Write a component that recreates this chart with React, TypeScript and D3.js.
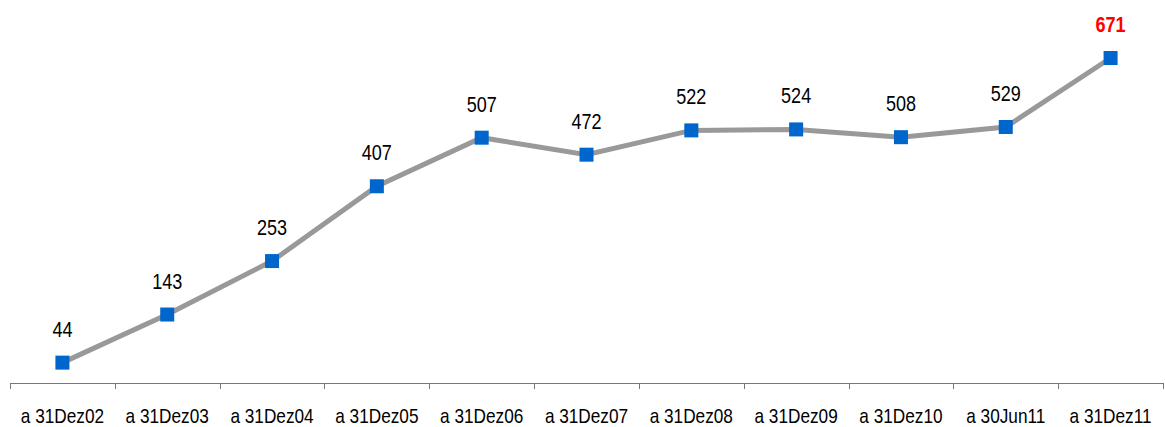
import React from 'react';
import * as d3 from 'd3';

const categories = ['a 31Dez02', 'a 31Dez03', 'a 31Dez04', 'a 31Dez05', 'a 31Dez06', 'a 31Dez07', 'a 31Dez08', 'a 31Dez09', 'a 31Dez10', 'a 30Jun11', 'a 31Dez11'];
const values = [44, 143, 253, 407, 507, 472, 522, 524, 508, 529, 671];

const W = 1165;
const H = 427;
const font = "'Liberation Sans', Arial, sans-serif";
// the original uses a narrow face; squeeze the regular one horizontally
const narrow = 0.82;

const App = () => {
  const x = d3.scaleBand<string>().domain(categories).range([10, 1163]);
  const y = d3.scaleLinear().domain([0, 671]).range([384, 58]);
  const cx = (c: string) => (x(c) as number) + x.bandwidth() / 2;

  const line = d3.line<number>()
    .x((d, i) => cx(categories[i]))
    .y((d) => y(d));

  const ticks = [...categories.map((c) => x(c) as number), 1163];
  const last = values.length - 1;

  return (
    <svg width={W} height={H} style={{ position: 'absolute', left: 0, top: 0 }}>
      <line x1={10} x2={1163} y1={383.5} y2={383.5} stroke="#777" strokeWidth={1} />
      {ticks.map((t, i) => (
        <line key={i} x1={Math.round(t) + 0.5} x2={Math.round(t) + 0.5} y1={383} y2={389} stroke="#777" strokeWidth={1} />
      ))}
      {categories.map((c) => (
        <text key={c} transform={`translate(${cx(c)},423) scale(${narrow},1)`} textAnchor="middle"
          fontFamily={font} fontSize={21} fill="#000">{c}</text>
      ))}
      <path d={line(values) || ''} fill="none" stroke="#999999" strokeWidth={5} />
      {values.map((v, i) => (
        <rect key={i} x={cx(categories[i]) - 7} y={y(v) - 7} width={14} height={14} fill="#0066CC" />
      ))}
      {values.map((v, i) => (
        <text key={'l' + i} transform={`translate(${cx(categories[i])},${y(v) - 26}) scale(${narrow},1)`}
          textAnchor="middle" fontFamily={font} fontSize={22}
          fontWeight={i === last ? 'bold' : 'normal'} fill={i === last ? '#FF0000' : '#000'}>{v}</text>
      ))}
    </svg>
  );
};

export default App;
